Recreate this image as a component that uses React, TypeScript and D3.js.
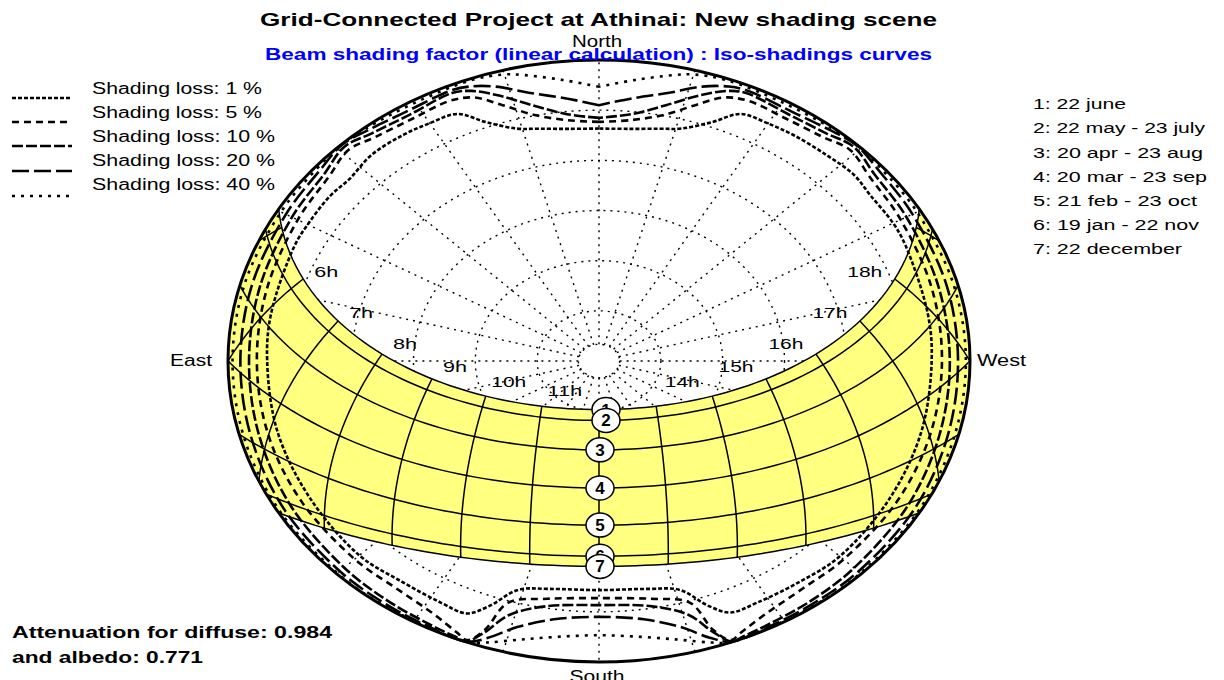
import React from 'react';
import * as d3 from 'd3';

// ---- Site -------------------------------------------------------------
const SITE_LATITUDE = 37.97; // Athinai, degrees north

const titleText = 'Grid-Connected Project at Athinai: New shading scene';
const subtitleText = 'Beam shading factor (linear calculation) : Iso-shadings curves';

// ---- Sun paths (solar declination of each labelled date) --------------
const sunPathNames = [
  '1: 22 june',
  '2: 22 may - 23 july',
  '3: 20 apr - 23 aug',
  '4: 20 mar - 23 sep',
  '5: 21 feb - 23 oct',
  '6: 19 jan - 22 nov',
  '7: 22 december',
];
const sunPathDeclinations = [23.44, 20.2, 11.4, 0.0, -11.1, -20.4, -23.44];

// Solar-time hour lines and the hours that carry a label
const hourLines = [4, 5, 6, 7, 8, 9, 10, 11, 12, 13, 14, 15, 16, 17, 18, 19, 20];
const hourLabelHours = [6, 7, 8, 9, 10, 11, 14, 15, 16, 17, 18];

// ---- Sky grid (sun height rings, azimuth spokes; azimuth from south, west > 0)
const altitudeRings = [85, 75, 60, 45, 30, 15];
const gridAzimuths = [-165, -150, -135, -120, -105, -90, -75, -60, -45, -30, -15, 0, 15, 30, 45, 60, 75, 90, 105, 120, 135, 150, 165, 180];

// ---- Iso-shading curves: [azimuth from south (west > 0), sun height] ---
const lossLabels = ['Shading loss: 1 %', 'Shading loss: 5 %', 'Shading loss: 10 %', 'Shading loss: 20 %', 'Shading loss: 40 %'];

const isoLoss1: [number, number][] = [
  [-180, 20.5], [-174, 20.2], [-168, 19.0], [-164, 17.7], [-159, 13.5], [-155, 8.5], [-150, 7.9], [-145, 7.4],
  [-138, 7.3], [-132, 8.6], [-127, 8.2], [-120, 8.4], [-115, 8.5], [-100, 9.2], [-90, 9.5], [-75, 9.2],
  [-60, 8.8], [-45, 7.8], [-36, 8.5], [-28, 8.2], [-23, 8.0], [-20, 12.0], [-16, 18.8], [-10, 20.8], [0, 21.5],
  [10, 20.8], [16, 18.8], [20, 12.0], [23, 8.3], [28, 8.2], [36, 8.0], [45, 7.4], [60, 8.4], [75, 9.0],
  [90, 9.3], [100, 9.0], [115, 8.0], [120, 7.6], [127, 7.6], [132, 6.8], [138, 7.3], [145, 7.6], [150, 8.0],
  [155, 8.5], [159, 13.5], [164, 17.7], [168, 19.0], [174, 20.2], [180, 20.5],
];
const isoLoss5: [number, number][] = [
  [-180, 18.5], [-174, 17.6], [-168, 14.8], [-163, 10.0], [-159, 5.6], [-155, 4.2], [-148, 4.6], [-141, 3.8],
  [-136, 2.4], [-130, 4.4], [-120, 5.6], [-105, 6.6], [-90, 7.0], [-75, 6.8], [-60, 6.5], [-45, 6.2],
  [-36, 6.1], [-28, 4.4], [-23, 1.8], [-21, 0.6], [-19, 5.0], [-17, 14.4], [-10, 17.8], [0, 19.1],
  [10, 17.8], [17, 14.4], [19, 5.0], [21, 0.6], [23, 1.8], [28, 4.2], [36, 5.9], [45, 6.1], [60, 6.4],
  [75, 6.7], [90, 6.8], [105, 6.4], [120, 5.5], [130, 4.3], [136, 2.3], [141, 3.8], [148, 4.5], [155, 4.2],
  [159, 5.6], [163, 10.0], [168, 14.8], [174, 17.6], [180, 18.5],
];
const isoLoss10: [number, number][] = [
  [-180, 17.3], [-174, 15.8], [-168, 11.8], [-163, 7.0], [-159, 3.5], [-156, 2.3], [-148, 3.2], [-141, 2.4],
  [-136, 1.0], [-130, 3.0], [-120, 4.0], [-105, 4.8], [-90, 5.1], [-75, 4.6], [-60, 3.6], [-45, 2.6],
  [-36, 1.9], [-28, 1.2], [-23, 0.5], [-21, 0.2], [-19, 4.0], [-16, 11.0], [-10, 15.5], [0, 17.0],
  [10, 15.5], [16, 11.0], [19, 4.0], [21, 0.2], [23, 0.5], [28, 1.2], [36, 1.8], [45, 2.5], [60, 3.5],
  [75, 4.5], [90, 4.9], [105, 4.7], [120, 3.9], [130, 2.9], [136, 1.0], [141, 2.4], [148, 3.1], [156, 2.3],
  [159, 3.5], [163, 7.0], [168, 11.8], [174, 15.8], [180, 17.3],
];
const isoLoss20: [number, number][] = [
  [-180, 13.5], [-174, 11.0], [-168, 8.0], [-163, 4.2], [-159, 2.1], [-156, 1.5], [-148, 2.0], [-141, 1.1],
  [-136, 0.2], [-130, 1.5], [-120, 2.3], [-105, 2.8], [-90, 3.0], [-75, 2.6], [-60, 1.7], [-45, 1.1],
  [-36, 0.8], [-28, 0.5], [-21, 0.1], [-18, 3.0], [-14, 8.0], [-8, 12.0], [0, 13.5],
  [8, 12.0], [14, 8.0], [18, 3.0], [21, 0.1], [28, 0.5], [36, 0.8], [45, 1.0], [60, 1.6], [75, 2.5],
  [90, 2.9], [105, 2.7], [120, 2.2], [130, 1.4], [136, 0.2], [141, 1.1], [148, 2.0], [156, 1.5], [159, 2.1],
  [163, 4.2], [168, 8.0], [174, 11.0], [180, 13.5],
];
const isoLoss40: [number, number][] = [
  [-180, 8.0], [-174, 5.5], [-168, 2.6], [-165, 1.3], [-160, 0.5], [-150, 0.8], [-141, 0.4], [-136, 0.1],
  [-130, 0.6], [-120, 0.9], [-105, 1.0], [-90, 1.1], [-75, 0.9], [-60, 0.5], [-45, 0.3], [-36, 0.2],
  [-21, 0.0], [-18, 1.5], [-13, 4.5], [-7, 6.9], [0, 8.0],
  [7, 6.9], [13, 4.5], [18, 1.5], [21, 0.0], [36, 0.2], [45, 0.3], [60, 0.5], [75, 0.9], [90, 1.0],
  [105, 1.0], [120, 0.9], [130, 0.6], [136, 0.1], [141, 0.4], [150, 0.8], [160, 0.5], [165, 1.3],
  [168, 2.6], [174, 5.5], [180, 8.0],
];
const isoCurves = [isoLoss1, isoLoss5, isoLoss10, isoLoss20, isoLoss40];

const diffuseAttenuation = 0.984;
const albedoAttenuation = 0.771;

// ---- Drawing ------------------------------------------------------------
const FONT = '"Liberation Sans", Arial, Helvetica, sans-serif';
const LOSS_DASH = ['4,2', '7,5', '11,3', '17,5', '3,6'];

type LabelProps = {
  x: number; y: number; text: string; size: number; width?: number;
  anchor?: 'start' | 'middle' | 'end'; bold?: boolean; fill?: string;
};
function Label({ x, y, text, size, width, anchor = 'start', bold = false, fill = '#000' }: LabelProps) {
  return (
    <text
      x={x}
      y={y}
      fontFamily={FONT}
      fontSize={size}
      fontWeight={bold ? 'bold' : 'normal'}
      fill={fill}
      textAnchor={anchor}
      textLength={width}
      lengthAdjust={width ? 'spacingAndGlyphs' : undefined}
    >
      {text}
    </text>
  );
}

export default function App() {
  const cx = 599, cy = 361, rx = 371, ry = 301;
  const deg = Math.PI / 180;

  // linear zenith-angle projection: sun height 90 at centre, 0 on the horizon
  const zenith = d3.scaleLinear().domain([90, 0]).range([0, 1]);
  const project = (az: number, alt: number): [number, number] => {
    const r = zenith(alt);
    return [cx + rx * r * Math.sin(az * deg), cy + ry * r * Math.cos(az * deg)];
  };

  // sun position (azimuth from south, west > 0; height) for a declination and hour angle
  const sun = (decl: number, hourAngle: number): [number, number] => {
    const phi = SITE_LATITUDE * deg, d = decl * deg, h = hourAngle * deg;
    const east = -Math.cos(d) * Math.sin(h);
    const north = Math.sin(d) * Math.cos(phi) - Math.cos(d) * Math.cos(h) * Math.sin(phi);
    const up = Math.sin(d) * Math.sin(phi) + Math.cos(d) * Math.cos(h) * Math.cos(phi);
    return [Math.atan2(-east, -north) / deg, Math.asin(up) / deg];
  };

  const line = d3.line<[number, number]>();
  const smooth = d3.line<[number, number]>().curve(d3.curveCatmullRom.alpha(0.5));

  const hourSamples = d3.range(-180, 180.001, 2);
  const pathPoints = (decl: number) => hourSamples.map((H) => project(...sun(decl, H)));

  const juneDecl = sunPathDeclinations[0];
  const decDecl = sunPathDeclinations[sunPathDeclinations.length - 1];
  const bandPath =
    (line([...pathPoints(juneDecl), ...pathPoints(decDecl).reverse()]) || '') + 'Z';

  const declSamples = d3.range(0, 61).map((i) => juneDecl + ((decDecl - juneDecl) * i) / 60);
  const hourLinePaths = hourLines.map((h) =>
    line(declSamples.map((dcl) => project(...sun(dcl, (h - 12) * 15)))) || ''
  );

  const legendRowsY = [98, 122, 146, 171, 196];
  const legendTextY = [94, 118, 142, 166, 190];
  const legendWidths = [170, 170, 183, 183, 183];
  const dateRowsY = [109, 133, 157.5, 181.5, 206, 230, 254];
  const dateWidths = [93, 172, 170, 174, 164, 166, 149];

  return (
    <svg
      width={1224}
      height={680}
      viewBox="0 0 1224 680"
      style={{ position: 'absolute', left: 0, top: 0, background: '#fff' }}
    >
      <defs>
        <clipPath id="dome">
          <ellipse cx={cx} cy={cy} rx={rx} ry={ry} />
        </clipPath>
        <clipPath id="domeWide">
          <ellipse cx={cx} cy={cy} rx={rx + 1.5} ry={ry + 1.5} />
        </clipPath>
      </defs>
      <rect x={0} y={0} width={1224} height={680} fill="#fff" />

      {/* sky grid */}
      <g fill="none" stroke="#000" strokeWidth={1.4} strokeDasharray="2,5">
        {altitudeRings.map((a) => (
          <ellipse key={`ring${a}`} cx={cx} cy={cy} rx={rx * zenith(a)} ry={ry * zenith(a)} />
        ))}
        {gridAzimuths.map((az) => (
          <path key={`spoke${az}`} d={line([project(az, altitudeRings[0]), project(az, 0)]) || ''} />
        ))}
      </g>

      {/* yearly sun band */}
      <g clipPath="url(#dome)">
        <path d={bandPath} fill="#ffff80" stroke="none" fillRule="nonzero" />
        <g fill="none" stroke="#000" strokeWidth={1.5}>
          {hourLinePaths.map((d, i) => (
            <path key={`hour${hourLines[i]}`} d={d} />
          ))}
          {sunPathDeclinations.map((dcl, i) => (
            <path key={`date${i}`} d={line(pathPoints(dcl)) || ''} />
          ))}
        </g>
      </g>

      {/* iso-shading curves */}
      <g clipPath="url(#domeWide)" fill="none" stroke="#000" strokeWidth={2.6}>
        {isoCurves.map((pts, i) => (
          <path
            key={`iso${i}`}
            d={smooth(pts.map(([a, h]) => project(a, h))) || ''}
            strokeDasharray={LOSS_DASH[i]}
          />
        ))}
      </g>

      {/* horizon */}
      <ellipse cx={cx} cy={cy} rx={rx} ry={ry} fill="none" stroke="#000" strokeWidth={3} />

      {/* hour labels along the 22 june path */}
      {hourLabelHours.map((h) => {
        const [x, y] = project(...sun(juneDecl, (h - 12) * 15));
        const morning = h < 12;
        const lift = 7 + 11 * (1 - Math.abs(h - 12) / 6);
        return (
          <Label
            key={`hl${h}`}
            x={x + (morning ? 23 : -30)}
            y={y - lift + 5.5}
            text={`${h}h`}
            size={15}
            width={h < 10 ? 24 : 35}
            anchor="middle"
          />
        );
      })}

      {/* sun path numbers at solar noon */}
      {sunPathDeclinations.map((dcl, i) => {
        const [x, y] = project(...sun(dcl, 0));
        const bx = x + (i < 2 ? 7 : 1);
        return (
          <g key={`badge${i}`}>
            <ellipse cx={bx} cy={y} rx={14} ry={12} fill="#fff" stroke="#000" strokeWidth={1.5} />
            <Label x={bx} y={y + 6} text={String(i + 1)} size={17} bold anchor="middle" />
          </g>
        );
      })}

      {/* compass */}
      <Label x={597} y={47} text="North" size={16} width={50} anchor="middle" />
      <Label x={597} y={682} text="South" size={16} width={55} anchor="middle" />
      <Label x={212} y={366} text="East" size={16} width={42} anchor="end" />
      <Label x={977} y={366} text="West" size={16} width={49} anchor="start" />

      {/* titles */}
      <Label x={260} y={26} text={titleText} size={19} width={677} bold />
      <Label x={265} y={60} text={subtitleText} size={16} width={667} bold fill="#0000ff" />

      {/* iso-shading legend */}
      {lossLabels.map((t, i) => (
        <g key={`leg${i}`}>
          <line
            x1={12}
            x2={72}
            y1={legendRowsY[i]}
            y2={legendRowsY[i]}
            stroke="#000"
            strokeWidth={2.6}
            strokeDasharray={LOSS_DASH[i]}
          />
          <Label x={92} y={legendTextY[i]} text={t} size={16} width={legendWidths[i]} />
        </g>
      ))}

      {/* sun path legend */}
      {sunPathNames.map((t, i) => (
        <Label key={`date${i}`} x={1033} y={dateRowsY[i]} text={t} size={15.5} width={dateWidths[i]} />
      ))}

      {/* diffuse / albedo factors */}
      <Label x={12} y={638} text={`Attenuation for diffuse: ${diffuseAttenuation.toFixed(3)}`} size={17} width={320} bold />
      <Label x={12} y={663} text={`and albedo: ${albedoAttenuation.toFixed(3)}`} size={17} width={191} bold />
    </svg>
  );
}
